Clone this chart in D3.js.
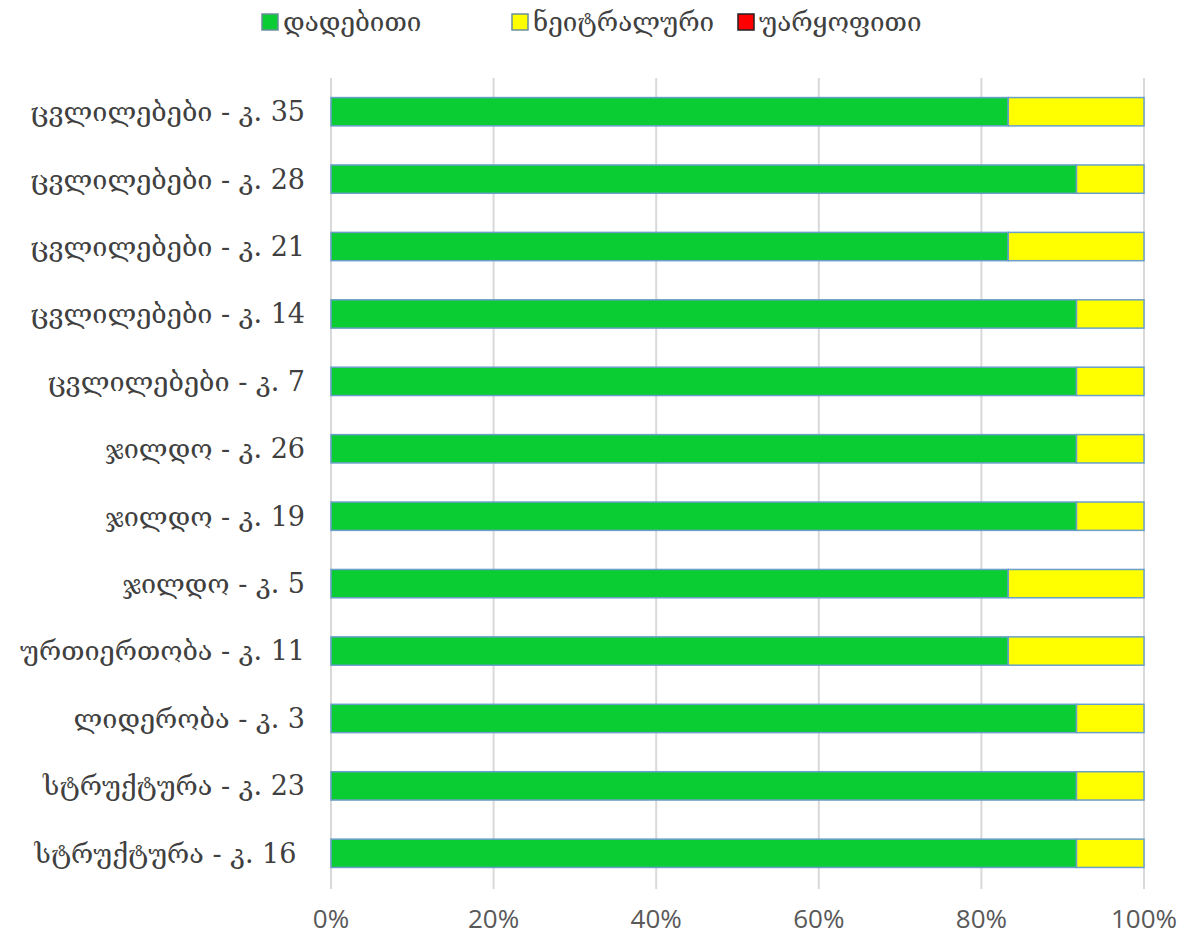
<!DOCTYPE html>
<html>
<head>
<meta charset="utf-8">
<script src="https://cdn.jsdelivr.net/npm/d3@7"></script>
<style>
  body { margin: 0; background: #fff; }
</style>
</head>
<body>
<div id="chart"></div>
<script>
// Data
const categories = [
    "ცვლილებები - კ. 35",
    "ცვლილებები - კ. 28",
    "ცვლილებები - კ. 21",
    "ცვლილებები - კ. 14",
    "ცვლილებები - კ. 7",
    "ჯილდო - კ. 26",
    "ჯილდო - კ. 19",
    "ჯილდო - კ. 5",
    "ურთიერთობა - კ. 11",
    "ლიდერობა - კ. 3",
    "სტრუქტურა - კ. 23",
    "სტრუქტურა - კ. 16 "
];
const positive = [83.3, 91.7, 83.3, 91.7, 91.7, 91.7, 91.7, 83.3, 83.3, 91.7, 91.7, 91.7];
const neutral  = [16.7, 8.3, 16.7, 8.3, 8.3, 8.3, 8.3, 16.7, 16.7, 8.3, 8.3, 8.3];
const negative = [0, 0, 0, 0, 0, 0, 0, 0, 0, 0, 0, 0];
const seriesNames = ["დადებითი", "ნეიტრალური", "უარყოფითი"];
const seriesColors = ["#0ACC33", "#FFFF00", "#FF0000"];
const xTicks = [0, 20, 40, 60, 80, 100];

// Dimensions
const width = 1189;
const height = 943;
const margin = { top: 78, right: 45, bottom: 56, left: 331 };

const svg = d3.select("#chart")
    .append("svg")
    .attr("width", width)
    .attr("height", height)
    .style("font-family", "'DejaVu Serif', 'DejaVu Sans', serif");

const x = d3.scaleLinear()
    .domain([0, 100])
    .range([margin.left, width - margin.right]);

const y = d3.scaleBand()
    .domain(categories)
    .range([margin.top, height - margin.bottom])
    .paddingInner(0.58)
    .paddingOuter(0.29);

// Gridlines
svg.append("g")
    .selectAll("line")
    .data(xTicks)
    .enter()
    .append("line")
    .attr("x1", d => x(d))
    .attr("x2", d => x(d))
    .attr("y1", margin.top)
    .attr("y2", height - margin.bottom + 2)
    .attr("stroke", "#d9d9d9")
    .attr("stroke-width", 2);

// Stacked bars
const rows = categories.map((c, i) => ({
    cat: c, p: positive[i], n: neutral[i], u: negative[i]
}));
const stack = d3.stack().keys(["p", "n", "u"]);
const layers = stack(rows);

svg.append("g")
    .selectAll("g")
    .data(layers)
    .enter()
    .append("g")
    .attr("fill", (d, i) => seriesColors[i])
    .selectAll("rect")
    .data(d => d.filter(s => s[1] - s[0] > 0))
    .enter()
    .append("rect")
    .attr("x", d => x(d[0]))
    .attr("y", d => y(d.data.cat))
    .attr("width", d => x(d[1]) - x(d[0]))
    .attr("height", y.bandwidth())
    .attr("stroke", "#6a9fc9")
    .attr("stroke-width", 1.5);

// Category labels
svg.append("g")
    .selectAll("text")
    .data(categories)
    .enter()
    .append("text")
    .attr("x", margin.left - 26)
    .attr("y", d => y(d) + y.bandwidth() / 2)
    .attr("dy", "0.35em")
    .attr("text-anchor", "end")
    .style("white-space", "pre")
    .attr("fill", "#404040")
    .style("font-size", "27px")
    .text(d => d);

// X axis labels
svg.append("g")
    .selectAll("text")
    .data(xTicks)
    .enter()
    .append("text")
    .attr("x", d => x(d))
    .attr("y", 928)
    .attr("text-anchor", "middle")
    .attr("fill", "#595959")
    .style("font-family", "'Open Sans', 'DejaVu Sans', sans-serif")
    .style("font-size", "26px")
    .text(d => d + "%");

// Legend
const legendX = [262, 512, 738];
const legend = svg.append("g")
    .selectAll("g")
    .data(seriesNames)
    .enter()
    .append("g")
    .attr("transform", (d, i) => `translate(${legendX[i]}, 22)`);

legend.append("rect")
    .attr("x", 0)
    .attr("y", -8)
    .attr("width", 16)
    .attr("height", 16)
    .attr("fill", (d, i) => seriesColors[i])
    .attr("stroke", (d, i) => i === 2 ? "#222" : "#6a8f9c")
    .attr("stroke-width", 1.5);

legend.append("text")
    .attr("x", 21)
    .attr("y", 0)
    .attr("dy", "0.35em")
    .attr("fill", "#404040")
    .style("font-size", "26px")
    .text(d => d);
</script>
</body>
</html>
